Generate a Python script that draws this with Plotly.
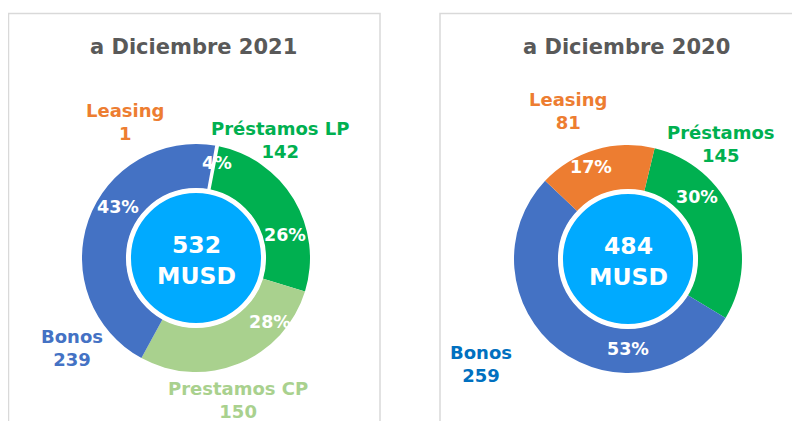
"""
Composición de la deuda financiera — dos donuts (2021 vs 2020)
"""

import plotly.graph_objects as go

# ── Datos ──────────────────────────────────────────────────────
# 2021 (orden horario desde ~11°)
cat_2021 = ["Préstamos LP", "Prestamos CP", "Bonos", "Leasing"]
val_2021 = [142, 150, 239, 1]
pct_2021 = ["26%", "28%", "43%", "4%"]
total_2021 = 532

# 2020 (orden horario desde ~13°)
cat_2020 = ["Préstamos", "Bonos", "Leasing"]
val_2020 = [145, 259, 81]
pct_2020 = ["30%", "53%", "17%"]
total_2020 = 484

titles = ["a Diciembre 2021", "a Diciembre 2020"]

# ── Estilo ─────────────────────────────────────────────────────
C = {
    "Bonos": "#4472C4",
    "Préstamos LP": "#00B050",
    "Préstamos": "#00B050",
    "Prestamos CP": "#A9D18E",
    "Leasing": "#ED7D31",
}
LABEL_C_2020 = {"Bonos": "#0070C0"}
CENTER_C = "#00AAFF"
FONT = "DejaVu Sans"

# la página tiene 8px de margen en <body>: la figura ocupa el resto de la ventana
OFF = 8
W, H = 800 - OFF, 421 - OFF


def px(x, y):
    """coordenadas de pantalla -> paper"""
    return (x - OFF) / W, 1 - (y - OFF) / H


def dom(cx, cy, r):
    x0, y1 = px(cx - r, cy - r)
    x1, y0 = px(cx + r, cy + r)
    return dict(x=[x0, x1], y=[y0, y1])


def note(xx, yy, text, size, color):
    x, y = px(xx, yy)
    return dict(x=x, y=y, xref="paper", yref="paper", text=text, showarrow=False,
                align="center", xanchor="center", yanchor="middle",
                font=dict(family=FONT, size=size, color=color, weight="bold"))


fig = go.Figure()
annotations = []


def add_donut(cats, vals, rotation, cx, cy, total, line_w):
    fig.add_trace(go.Pie(
        labels=cats, values=vals, sort=False, direction="clockwise",
        rotation=rotation, hole=0.61, textinfo="none",
        marker=dict(colors=[C[c] for c in cats],
                    line=dict(color="white", width=line_w)),
        domain=dom(cx, cy, 114), showlegend=False, hoverinfo="label+value",
    ))
    # disco central
    fig.add_trace(go.Pie(
        labels=["Total"], values=[total], textinfo="none", hole=0,
        marker=dict(colors=[CENTER_C], line=dict(color="white", width=5)),
        domain=dom(cx, cy, 67.5), showlegend=False, hoverinfo="skip",
    ))
    annotations.append(note(cx, cy - 13, f"{total}", 23.5, "white"))
    annotations.append(note(cx, cy + 18, "MUSD", 23.5, "white"))


add_donut(cat_2021, val_2021, 11, 196, 258, total_2021, [0, 0, 0, 2.5])
add_donut(cat_2020, val_2020, 13.5, 628, 259, total_2020, [0, 0, 0])

# ── Etiquetas de porcentaje ───────────────────────────────────
pct_pos_2021 = [(285, 235), (270, 322), (118, 207), (217, 163)]
pct_pos_2020 = [(697, 197), (628, 349), (591, 167)]
for txt, (xx, yy) in list(zip(pct_2021, pct_pos_2021)) + list(zip(pct_2020, pct_pos_2020)):
    annotations.append(note(xx, yy, txt, 17.5, "white"))

# ── Etiquetas de categoría ───────────────────────────────────
cat_pos_2021 = [(280, 140), (238, 400), (72, 348), (125, 122)]
cat_pos_2020 = [(721, 144), (481, 364), (568, 111)]
for cats, vals, pos, over in [(cat_2021, val_2021, cat_pos_2021, {}),
                              (cat_2020, val_2020, cat_pos_2020, LABEL_C_2020)]:
    for c, v, (xx, yy) in zip(cats, vals, pos):
        annotations.append(note(xx, yy, f"{c}<br>{v}", 18, over.get(c, C[c])))

# ── Títulos ──────────────────────────────────────────────────
for t, xx in zip(titles, [193, 626]):
    annotations.append(note(xx, 47, t, 21, "#595959"))

# ── Marcos ───────────────────────────────────────────────────
shapes = []
for x0, x1 in [(8.5, 380), (440, 810)]:
    a, b = px(x0, 13.5)
    c, d = px(x1, 440)
    shapes.append(dict(type="rect", xref="paper", yref="paper",
                       x0=a, x1=c, y0=d, y1=b,
                       line=dict(color="#D9D9D9", width=1.5)))

fig.update_layout(
    width=W, height=H,
    margin=dict(l=0, r=0, t=0, b=0),
    paper_bgcolor="white", plot_bgcolor="white",
    annotations=annotations, shapes=shapes,
)

fig.write_html("out.html")
